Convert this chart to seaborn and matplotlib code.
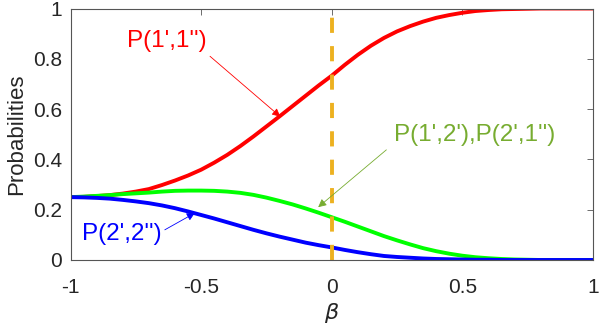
import numpy as np
import pandas as pd
import matplotlib
matplotlib.use("Agg")
import matplotlib.pyplot as plt
import seaborn as sns

# valores (passo 0.05 em beta)
beta = [-1.0, -0.95, -0.9, -0.85, -0.8, -0.75, -0.7, -0.65, -0.6, -0.55, -0.5,
        -0.45, -0.4, -0.35, -0.3, -0.25, -0.2, -0.15, -0.1, -0.05, 0.0,
        0.05, 0.1, 0.15, 0.2, 0.25, 0.3, 0.35, 0.4, 0.45, 0.5,
        0.55, 0.6, 0.65, 0.7, 0.75, 0.8, 0.85, 0.9, 0.95, 1.0]
p11 = [0.250, 0.251, 0.254, 0.258, 0.264, 0.272, 0.282, 0.298, 0.316, 0.336, 0.359,
       0.387, 0.418, 0.453, 0.491, 0.531, 0.571, 0.612, 0.653, 0.694, 0.733,
       0.776, 0.816, 0.852, 0.883, 0.909, 0.930, 0.948, 0.963, 0.974, 0.983,
       0.990, 0.994, 0.997, 0.998, 0.999, 1.0, 1.0, 1.0, 1.0, 1.0]
p12 = [0.250, 0.252, 0.255, 0.258, 0.262, 0.265, 0.268, 0.272, 0.275, 0.276, 0.276,
       0.275, 0.272, 0.267, 0.259, 0.248, 0.235, 0.221, 0.205, 0.188, 0.170,
       0.152, 0.133, 0.114, 0.095, 0.078, 0.062, 0.047, 0.035, 0.025, 0.017,
       0.011, 0.007, 0.004, 0.002, 0.001, 0.0, 0.0, 0.0, 0.0, 0.0]
p22 = [0.250, 0.249, 0.247, 0.244, 0.239, 0.233, 0.226, 0.217, 0.206, 0.193, 0.179,
       0.165, 0.150, 0.135, 0.120, 0.106, 0.093, 0.081, 0.069, 0.059, 0.050,
       0.040, 0.031, 0.023, 0.016, 0.012, 0.009, 0.006, 0.004, 0.003, 0.002,
       0.001, 0.001, 0.0, 0.0, 0.0, 0.0, 0.0, 0.0, 0.0, 0.0]

sns.set_style("white")
plt.rcParams['font.family'] = ['Liberation Sans', 'DejaVu Sans']
plt.rcParams['mathtext.fontset'] = 'dejavusans'

df = pd.DataFrame({'beta': beta, 'p11': p11, 'p12': p12, 'p22': p22})

fig = plt.figure(figsize=(5.99, 3.27), dpi=100)
ax = fig.add_axes([0.1177, 0.2049, 0.8723, 0.7691])

lw = 2.8
sns.lineplot(data=df, x='beta', y='p11', color='#ff0000', lw=lw, ax=ax)
sns.lineplot(data=df, x='beta', y='p12', color='#00ff00', lw=lw, ax=ax)
sns.lineplot(data=df, x='beta', y='p22', color='#0000ff', lw=lw, ax=ax)
ax.axvline(0, color='#edb120', lw=2.8, linestyle=(0, (3.9, 3.4)))

ax.set_xlim(-1, 1)
ax.set_ylim(0, 1)
ax.set_xticks([-1, -0.5, 0, 0.5, 1])
ax.set_xticklabels(['-1', '-0.5', '0', '0.5', '1'])
ax.set_yticks([0, 0.2, 0.4, 0.6, 0.8, 1])
ax.set_yticklabels(['0', '0.2', '0.4', '0.6', '0.8', '1'])
ax.tick_params(direction='in', length=4, width=0.6, color='#555555',
               labelsize=15, labelcolor='#262626', top=True, right=True)
ax.tick_params(axis='x', pad=13)
ax.tick_params(axis='y', pad=6)
for s in ax.spines.values():
    s.set_visible(True)
    s.set_color('#555555')
    s.set_linewidth(0.8)
ax.set_xlabel(r'$\beta$', fontsize=16, color='#262626', labelpad=3)
ax.set_ylabel('Probabilities', fontsize=16, color='#262626', labelpad=4)

fs = 17.5
arrow = dict(arrowstyle='-|>', lw=0.6, mutation_scale=12, shrinkA=0, shrinkB=0)

ax.text(-0.630, 0.869, "P(1',1'')", color='#ff0000', fontsize=fs,
        ha='center', va='center')
ax.annotate("", xy=(-0.197, 0.57), xytext=(-0.466, 0.81),
            arrowprops=dict(arrow, color='#ff0000'))

ax.text(0.548, 0.498, "P(1',2'),P(2',1'')", color='#77ac30', fontsize=fs,
        ha='center', va='center')
ax.annotate("", xy=(-0.052, 0.21), xytext=(0.209, 0.438),
            arrowprops=dict(arrow, color='#77ac30'))

ax.text(-0.803, 0.104, "P(2',2'')", color='#0000ff', fontsize=fs,
        ha='center', va='center')
ax.annotate("", xy=(-0.524, 0.187), xytext=(-0.639, 0.12),
            arrowprops=dict(arrow, color='#0000ff'))

fig.savefig('out.png', dpi=100)
